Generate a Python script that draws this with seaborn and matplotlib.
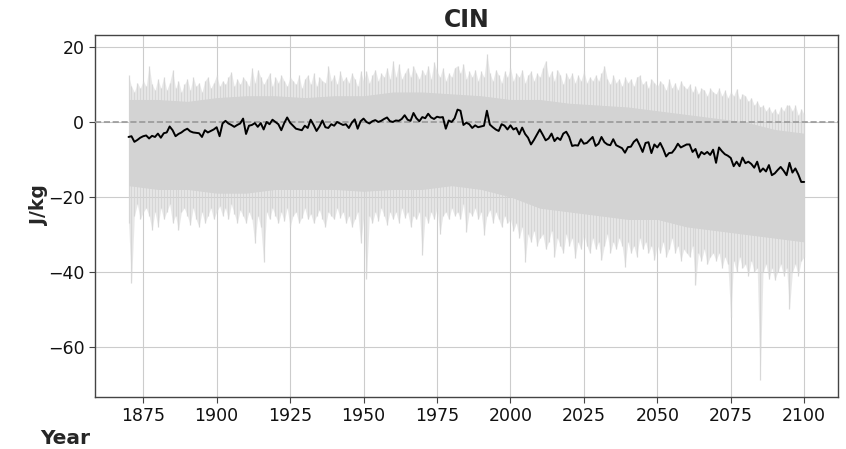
import numpy as np
import pandas as pd
import matplotlib
matplotlib.use("Agg")
import matplotlib.pyplot as plt
import seaborn as sns

# Ensemble-mean CIN (J/kg), one value per year 1870-2100
mean_cin = [
    -4.0, -3.8, -5.3, -4.8, -4.2, -3.8, -3.6, -4.4, -3.7, -4.0,   # 1870s
    -3.1, -4.2, -3.0, -2.8, -1.2, -2.2, -3.8, -3.2, -2.8, -2.2,   # 1880s
    -1.8, -2.5, -2.8, -2.9, -3.0, -4.0, -2.2, -2.8, -2.4, -2.0,   # 1890s
    -1.4, -3.8, -0.4, 0.3, -0.4, -0.8, -1.3, -0.8, -0.4, 0.9,     # 1900s
    -3.2, -1.0, -0.8, -0.3, -1.3, -0.3, -2.0, 0.0, -0.6, 0.6,     # 1910s
    0.0, -0.6, -2.2, -0.3, 1.2, -0.2, -1.0, -1.8, -2.0, -2.2,     # 1920s
    -1.0, -1.6, 0.6, -0.8, -2.4, -1.2, 0.4, -1.4, -1.6, -0.6,     # 1930s
    -1.0, 0.0, -0.4, -0.8, -0.6, -1.6, -0.2, 0.7, -1.8, 0.2,      # 1940s
    0.9, 0.0, -0.4, 0.2, 0.5, 0.0, 0.3, 0.8, 1.2, 0.2,            # 1950s
    0.0, 0.4, 0.3, 0.8, 1.8, 0.6, 0.3, 2.4, 1.0, 0.2,             # 1960s
    1.3, 1.0, 2.2, 1.2, 0.8, 1.4, 1.2, 1.3, -1.8, 0.4,            # 1970s
    0.0, 1.0, 3.3, 3.0, -0.8, -0.2, -0.6, -1.6, -0.9, -1.4,       # 1980s
    -1.2, -1.0, 3.0, -0.7, -1.4, -2.0, -2.4, -0.6, -1.0, -2.0,    # 1990s
    -0.9, -2.0, -1.6, -3.3, -1.5, -3.2, -4.2, -6.0, -4.8, -3.4,   # 2000s
    -2.0, -3.4, -4.9, -4.4, -3.1, -5.1, -4.2, -4.8, -3.1, -2.6,   # 2010s
    -4.0, -6.4, -6.2, -6.3, -4.6, -5.8, -5.6, -4.8, -4.0, -6.4,   # 2020s
    -5.8, -4.0, -5.4, -6.0, -6.2, -4.6, -6.2, -6.6, -7.0, -8.2,   # 2030s
    -6.7, -6.6, -5.3, -4.6, -6.2, -8.0, -5.6, -5.4, -8.3, -6.0,   # 2040s
    -6.8, -5.6, -7.2, -9.2, -8.3, -8.2, -7.2, -5.8, -6.8, -6.4,   # 2050s
    -6.0, -6.0, -8.0, -7.2, -9.5, -8.0, -8.6, -8.0, -8.8, -7.4,   # 2060s
    -10.9, -6.8, -7.8, -8.6, -9.0, -9.6, -11.8, -10.6, -11.8, -9.5,  # 2070s
    -11.0, -10.6, -11.2, -12.2, -10.6, -13.3, -12.4, -13.2, -11.5, -14.2,  # 2080s
    -13.7, -12.8, -12.0, -13.0, -14.2, -10.9, -13.5, -12.4, -14.0, -16.0,  # 2090s
    -16.0,                                                          # 2100
]

# Highest ensemble member in each year
member_max = [
    12.4, 9.5, 8.0, 10.5, 9.0, 11.0, 9.5, 15.0, 10.0, 8.5,
    11.5, 9.0, 12.0, 8.5, 10.5, 13.8, 9.0, 11.0, 8.0, 10.0,
    11.5, 8.5, 12.0, 9.5, 10.5, 8.0, 11.0, 12.0, 9.0, 10.5,
    12.5, 9.5, 11.0, 10.0, 12.0, 13.3, 9.5, 11.5, 10.0, 12.0,
    11.0, 9.5, 14.5, 10.5, 14.0, 12.0, 10.0, 11.5, 13.0, 9.5,
    12.0, 10.5, 12.5, 11.0, 9.5, 12.0, 11.0, 10.0, 12.5, 9.0,
    11.5, 12.5, 10.0, 13.0, 9.5, 12.0, 11.0, 10.5, 15.0, 11.0,
    12.5, 10.0, 13.5, 11.0, 12.0, 10.5, 13.0, 11.5, 9.5, 13.5,
    11.0, 13.5, 10.5, 12.5, 14.0, 11.0, 13.0, 12.0, 14.5, 11.5,
    16.4, 12.0, 15.5, 11.5, 13.0, 14.5, 12.0, 15.0, 13.0, 11.5,
    14.0, 12.5, 15.0, 11.5, 16.0, 13.5, 12.0, 14.5, 11.0, 13.0,
    12.0, 14.5, 15.0, 13.0, 15.6, 11.5, 13.5, 12.0, 14.0, 11.0,
    13.5, 12.0, 18.2, 13.0, 11.0, 14.0, 12.5, 10.5, 13.5, 12.0,
    14.5, 11.0, 13.0, 12.0, 14.0, 10.5, 12.5, 13.5, 11.0, 13.0,
    12.0, 14.5, 16.4, 12.0, 13.5, 11.0, 14.0, 12.5, 10.0, 13.0,
    11.5, 13.0, 10.5, 12.5, 11.0, 13.5, 10.5, 12.0, 11.0, 12.5,
    11.0, 13.0, 15.0, 11.5, 10.0, 12.5, 10.5, 11.5, 9.5, 12.0,
    10.5, 11.5, 9.5, 12.0, 12.4, 10.0, 11.0, 9.0, 11.5, 10.5,
    9.5, 11.0, 10.0, 8.5, 11.5, 9.0, 10.5, 8.5, 11.0, 9.5,
    8.9, 10.0, 8.0, 9.5, 7.5, 9.0, 8.5, 7.0, 9.0, 8.0,
    7.5, 9.0, 7.0, 8.5, 6.5, 8.0, 7.0, 8.9, 6.0, 7.5,
    7.0, 5.5, 6.5, 4.5, 5.5, 4.0, 4.4, 3.0, 4.0, 2.5,
    3.5, 2.0, 4.0, 3.0, 4.5, 4.4, 3.0, 4.5, 1.8, 3.5,
    2.0,
]

# Lowest ensemble member in each year
member_min = [
    -27.0, -43.0, -25.0, -22.0, -26.0, -24.0, -23.0, -25.0, -28.9, -24.0,
    -28.0, -23.0, -26.0, -24.0, -22.0, -27.0, -25.0, -28.9, -24.0, -23.0,
    -25.0, -27.5, -23.0, -26.0, -28.0, -24.0, -27.0, -25.0, -23.0, -26.0,
    -24.0, -22.5, -25.0, -23.0, -26.0, -22.0, -24.5, -27.0, -23.5, -25.0,
    -27.0, -24.0, -26.0, -32.4, -25.0, -28.0, -37.3, -24.0, -26.0, -23.0,
    -25.0, -27.0, -24.0, -26.5, -23.0, -28.0, -25.0, -24.0, -27.0, -25.5,
    -23.0, -26.0, -24.5, -27.0, -25.0, -23.5, -26.0, -28.0, -24.0, -25.0,
    -26.0, -23.0, -25.5, -24.0, -27.0, -25.0, -28.0, -26.0, -24.0, -32.4,
    -26.0, -41.8, -25.0, -27.0, -24.0, -26.5, -23.0, -25.0, -27.5, -24.0,
    -26.0, -24.0, -27.0, -23.0, -25.5, -24.0, -28.0, -25.0, -26.0, -24.0,
    -35.6, -25.0, -27.0, -24.0, -26.0, -23.0, -30.0, -25.0, -24.0, -26.0,
    -23.0, -25.0, -24.0, -26.0, -22.0, -29.3, -24.0, -25.0, -23.0, -26.0,
    -24.0, -30.2, -25.0, -23.5, -27.0, -24.0, -26.0, -28.0, -25.0, -27.0,
    -26.0, -29.0, -27.0, -31.0, -28.0, -37.3, -30.0, -32.0, -29.0, -33.0,
    -31.0, -30.0, -34.0, -32.0, -29.0, -36.0, -31.0, -33.0, -35.0, -30.0,
    -33.0, -31.0, -36.4, -32.0, -34.0, -30.0, -33.0, -35.0, -31.0, -34.0,
    -32.0, -36.9, -33.0, -30.0, -35.0, -32.0, -34.0, -31.0, -33.0, -38.7,
    -32.0, -35.0, -33.0, -36.0, -31.0, -34.0, -32.0, -35.0, -33.0, -36.9,
    -33.0, -35.0, -32.0, -36.0, -34.0, -31.0, -35.0, -33.0, -37.0, -34.0,
    -35.0, -36.0, -33.0, -43.6, -35.0, -37.0, -34.0, -38.0, -36.0, -35.0,
    -37.0, -35.0, -39.0, -36.0, -38.0, -52.0, -37.0, -40.0, -36.0, -39.0,
    -38.0, -41.0, -37.0, -40.0, -39.0, -68.9, -40.0, -38.0, -42.0, -39.0,
    -42.2, -40.0, -38.0, -41.0, -39.0, -49.8, -40.0, -38.0, -41.0, -37.0,
    -36.0,
]

# Bulk of the ensemble spread, by decade
core_years = [1870, 1880, 1890, 1900, 1910, 1920, 1930, 1940, 1950, 1960, 1970, 1980,
              1990, 2000, 2010, 2020, 2030, 2040, 2050, 2060, 2070, 2080, 2090, 2100]
core_upper = [6.0, 6.0, 5.5, 6.5, 7.0, 7.0, 6.5, 7.0, 7.0, 8.0, 8.0, 7.5,
              7.0, 6.0, 6.0, 5.0, 4.5, 4.0, 3.0, 2.0, 1.0, 0.0, -2.0, -3.0]
core_lower = [-17.0, -18.0, -18.0, -19.0, -19.0, -18.0, -18.0, -18.0, -18.5, -18.0, -18.0, -17.0,
              -18.0, -20.0, -23.0, -24.0, -25.0, -26.0, -26.0, -28.0, -29.0, -30.0, -31.0, -32.0]

year = np.arange(1870, 2101)
df = pd.DataFrame({"Year": year, "mean": mean_cin, "max": member_max, "min": member_min})

sns.set_style("whitegrid")
plt.rcParams["font.family"] = ["DejaVu Sans"]

fig = plt.figure(figsize=(8.46, 4.49), dpi=100)
ax = fig.add_axes([0.112, 0.1165, 0.8785, 0.8055])

spread = "#d3d3d3"
# outer fringe of individual members: faint fill plus one streak per year
ax.fill_between(df["Year"], df["mean"], df["max"], color=spread, alpha=0.5, lw=0)
ax.fill_between(df["Year"], df["min"], df["mean"], color=spread, alpha=0.5, lw=0)
ax.vlines(df["Year"], df["min"], df["max"], color=spread, lw=0.9, alpha=0.85)
# dense core of the ensemble
ax.fill_between(core_years, core_lower, core_upper, color=spread, lw=0)

ax.axhline(0, color="#999999", ls="--", lw=1.2, zorder=3)
sns.lineplot(data=df, x="Year", y="mean", color="black", lw=1.4, ax=ax, zorder=4)

ax.set_xlim(1858.5, 2111.5)
ax.set_ylim(-73.3, 23.2)
ax.set_xticks([1875, 1900, 1925, 1950, 1975, 2000, 2025, 2050, 2075, 2100])
ax.set_yticks([-60, -40, -20, 0, 20])
ax.grid(True, color="#cccccc", lw=0.8)
ax.set_axisbelow(True)
for s in ax.spines.values():
    s.set_visible(True)
    s.set_color("#444444")
    s.set_linewidth(1.0)
ax.tick_params(axis="both", length=4, width=0.8, color="#444444", labelsize=12.5,
               labelcolor="#111111", bottom=True, left=True)

ax.set_title("CIN", fontsize=17, fontweight="bold", pad=6)
ax.set_ylabel("J/kg", fontsize=13.5, fontweight="bold")
ax.set_xlabel("Year", fontsize=14.5, fontweight="bold")
ax.yaxis.set_label_coords(-0.062, 0.53)
ax.xaxis.set_label_coords(-0.04, -0.088)

fig.savefig("out.png", dpi=100)
